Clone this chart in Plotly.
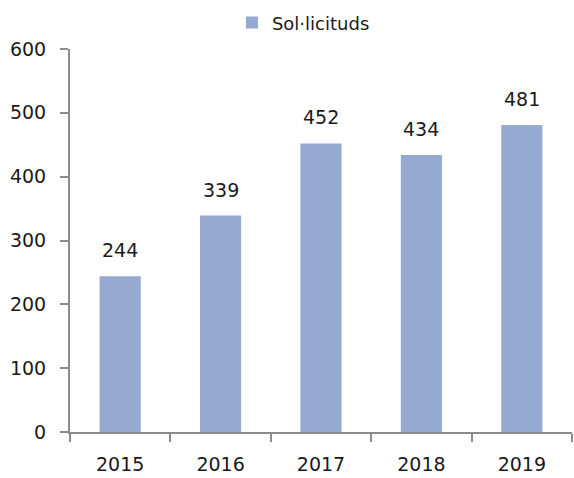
import plotly.graph_objects as go

years = ["2015", "2016", "2017", "2018", "2019"]
sollicituds = [244, 339, 452, 434, 481]
y_ticks = [0, 100, 200, 300, 400, 500, 600]

font_family = "DejaVu Sans"
txt_color = "#1a1a1a"
axis_color = "#8c8c8c"

fig = go.Figure()
fig.add_trace(go.Bar(
    x=years, y=sollicituds, name="Sol·licituds",
    marker=dict(color="#95a9d1", line=dict(width=0)),
    hoverinfo="skip",
))

# category axis: annotation x given as category index
for i, v in enumerate(sollicituds):
    fig.add_annotation(
        x=i, y=v, text=str(v), showarrow=False,
        yanchor="bottom", yshift=13,
        font=dict(family=font_family, size=19, color=txt_color),
    )

fig.update_layout(
    width=574, height=478,
    margin=dict(l=70, r=2, t=49, b=46),
    paper_bgcolor="white", plot_bgcolor="white",
    bargap=0.59,
    showlegend=True,
    legend=dict(orientation="h", x=0.465, xanchor="center", y=1.02, yanchor="bottom",
                font=dict(family=font_family, size=18, color=txt_color)),
    font=dict(family=font_family, size=19, color=txt_color),
)
fig.update_xaxes(
    type="category", showline=True, linecolor=axis_color, linewidth=2,
    ticks="outside", ticklen=8, tickcolor=axis_color, tickwidth=2,
    tickson="boundaries", showgrid=False, ticklabelstandoff=14,
    automargin=False,
    tickfont=dict(family=font_family, size=19, color=txt_color),
)
fig.update_yaxes(
    range=[0, 600], tickvals=y_ticks, showline=True, linecolor=axis_color, linewidth=2,
    ticks="outside", ticklen=8, tickcolor=axis_color, tickwidth=2,
    showgrid=False, zeroline=False, ticklabelstandoff=10,
    automargin=False,
    tickfont=dict(family=font_family, size=19, color=txt_color),
)

fig.write_html("out.html", config={"displayModeBar": False})

# remove the browser's default body margin so the figure sits at the page origin
with open("out.html", "r", encoding="utf-8") as f:
    html = f.read()
html = html.replace("<head>", "<head><style>html,body{margin:0;padding:0;overflow:hidden;}</style>", 1)
with open("out.html", "w", encoding="utf-8") as f:
    f.write(html)
